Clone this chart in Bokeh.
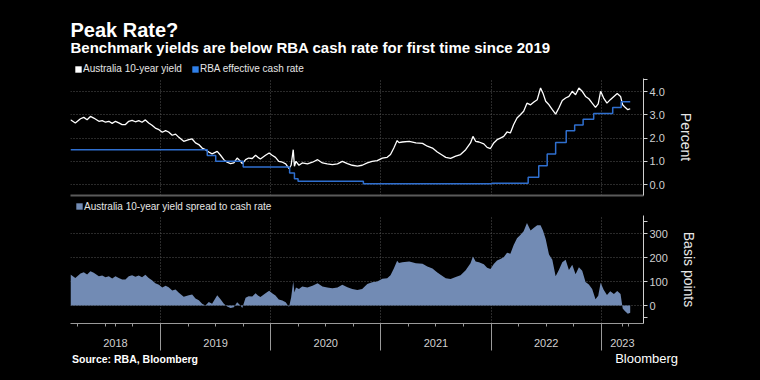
import numpy as np
import pandas as pd
from bokeh.plotting import figure
from bokeh.models import (Range1d, FixedTicker, PrintfTickFormatter, Label,
                          Legend, LegendItem)
from bokeh.layouts import column
from bokeh.embed import file_html
from bokeh.resources import INLINE

# ---------------- data ----------------
yield_dates = [
    "2018-03-09", "2018-03-25", "2018-04-11", "2018-04-22", "2018-05-03", "2018-05-14",
    "2018-05-25", "2018-06-11", "2018-06-22", "2018-07-03", "2018-07-14", "2018-07-25",
    "2018-08-05", "2018-08-16", "2018-08-27", "2018-09-07", "2018-09-18", "2018-09-29",
    "2018-10-10", "2018-10-21", "2018-11-01", "2018-11-12", "2018-11-23", "2018-12-04",
    "2018-12-15", "2018-12-27", "2019-01-07", "2019-01-18", "2019-01-28", "2019-02-09",
    "2019-02-20", "2019-03-03", "2019-03-19", "2019-04-05", "2019-04-16", "2019-04-27",
    "2019-05-08", "2019-05-19", "2019-05-30", "2019-06-10", "2019-06-21", "2019-07-08",
    "2019-07-19", "2019-07-30", "2019-08-10", "2019-08-21", "2019-09-01", "2019-09-12",
    "2019-09-23", "2019-09-29", "2019-10-10", "2019-10-20", "2019-11-01", "2019-11-12",
    "2019-11-20", "2019-11-28", "2019-12-15", "2019-12-27", "2020-01-06", "2020-01-17",
    "2020-01-28", "2020-02-09", "2020-02-20", "2020-03-02", "2020-03-09", "2020-03-16",
    "2020-03-20", "2020-03-25", "2020-04-04", "2020-04-15", "2020-05-02", "2020-05-19",
    "2020-06-05", "2020-06-21", "2020-07-07", "2020-07-24", "2020-08-10", "2020-08-26",
    "2020-09-12", "2020-09-28", "2020-10-15", "2020-10-31", "2020-11-17", "2020-12-03",
    "2020-12-20", "2021-01-06", "2021-01-22", "2021-02-02", "2021-02-13", "2021-02-24",
    "2021-03-02", "2021-03-13", "2021-04-05", "2021-04-27", "2021-05-19", "2021-06-04",
    "2021-06-21", "2021-07-07", "2021-07-24", "2021-08-04", "2021-08-20", "2021-09-06",
    "2021-09-22", "2021-10-09", "2021-10-25", "2021-11-02", "2021-11-11", "2021-11-22",
    "2021-12-08", "2021-12-19", "2021-12-30", "2022-01-10", "2022-01-21", "2022-02-01",
    "2022-02-12", "2022-02-23", "2022-03-06", "2022-03-17", "2022-03-28", "2022-04-08",
    "2022-04-19", "2022-04-30", "2022-05-12", "2022-05-23", "2022-06-03", "2022-06-14",
    "2022-06-22", "2022-07-01", "2022-07-12", "2022-07-23", "2022-08-03", "2022-08-14",
    "2022-08-25", "2022-09-05", "2022-09-16", "2022-09-27", "2022-10-08", "2022-10-19",
    "2022-10-30", "2022-11-10", "2022-11-21", "2022-12-02", "2022-12-13", "2022-12-22",
    "2022-12-30", "2023-01-09", "2023-01-20", "2023-01-31", "2023-02-12", "2023-02-23",
    "2023-03-06", "2023-03-13", "2023-03-21", "2023-03-30", "2023-04-07",
]
yield_10y = [
    2.79, 2.65, 2.83, 2.89, 2.79, 2.93,
    2.86, 2.72, 2.75, 2.68, 2.72, 2.63,
    2.72, 2.65, 2.58, 2.58, 2.72, 2.76,
    2.70, 2.75, 2.68, 2.78, 2.65, 2.55,
    2.43, 2.36, 2.25, 2.32, 2.26, 2.12,
    2.17, 2.03, 1.86, 1.93, 1.96, 1.79,
    1.72, 1.57, 1.50, 1.40, 1.32, 1.43,
    1.26, 1.07, 0.96, 0.90, 0.93, 1.14,
    1.00, 0.90, 1.07, 1.14, 1.12, 1.26,
    1.17, 1.10, 1.26, 1.36, 1.26, 1.17,
    1.00, 0.96, 0.89, 0.69, 0.83, 1.50,
    0.79, 1.00, 0.83, 0.93, 0.89, 0.96,
    1.07, 0.93, 0.89, 0.86, 0.89, 1.00,
    0.90, 0.83, 0.79, 0.83, 0.93, 1.00,
    1.03, 1.14, 1.17, 1.29, 1.57, 1.89,
    1.80, 1.83, 1.86, 1.79, 1.77, 1.65,
    1.57, 1.40, 1.26, 1.17, 1.13, 1.22,
    1.29, 1.50, 1.79, 2.07, 1.86, 1.83,
    1.75, 1.60, 1.55, 1.79, 1.93, 2.00,
    2.07, 2.26, 2.22, 2.58, 2.86, 3.00,
    3.15, 3.50, 3.43, 3.55, 3.65, 4.15,
    3.93, 3.58, 3.43, 3.22, 3.03, 3.30,
    3.61, 3.72, 3.79, 4.01, 3.86, 4.15,
    4.01, 3.79, 3.69, 3.50, 3.32, 3.47,
    4.01, 3.72, 3.50, 3.65, 3.79, 3.91,
    3.79, 3.43, 3.32, 3.22, 3.26,
]
cash_dates = [
    "2018-03-09", "2019-06-05", "2019-07-03", "2019-10-02", "2020-03-04", "2020-03-20",
    "2020-04-01", "2020-11-04", "2022-01-05", "2022-05-04", "2022-06-08", "2022-07-06",
    "2022-08-03", "2022-09-07", "2022-10-05", "2022-11-02", "2022-12-07", "2023-02-08",
    "2023-03-08", "2023-04-07",
]
cash_rate = [
    1.50, 1.25, 1.00, 0.75, 0.50, 0.25,
    0.14, 0.03, 0.06, 0.31, 0.81, 1.31,
    1.81, 2.31, 2.56, 2.81, 3.06, 3.31,
    3.56, 3.56,
]
years = ["2018", "2019", "2020", "2021", "2022", "2023"]
pct_ticks = [0, 1, 2, 3, 4]
bp_ticks = [0, 100, 200, 300]
x_start_date = "2018-03-09"
x_end_date = "2023-05-21"

# ---------------- helpers ----------------
def frac_year(s):
    d = pd.Timestamp(s)
    a = pd.Timestamp(year=d.year, month=1, day=1)
    b = pd.Timestamp(year=d.year + 1, month=1, day=1)
    return d.year + (d - a) / (b - a)

yx = np.array([frac_year(s) for s in yield_dates])
cx = np.array([frac_year(s) for s in cash_dates])
yv = np.array(yield_10y)
cv = np.array(cash_rate)
idx = np.clip(np.searchsorted(cx, yx, side="right") - 1, 0, len(cv) - 1)
spread_bp = (yv - cv[idx]) * 100.0

x0 = frac_year(x_start_date)
x1 = frac_year(x_end_date)

year_bounds = [float(int(y)) for y in years if x0 < int(y) < x1]
label_pos, label_txt = [], []
for y in years:
    lo, hi = max(float(int(y)), x0), min(float(int(y) + 1), x1)
    label_pos.append((lo + hi) / 2.0)
    label_txt.append(y)
quarter_ticks = [int(y) + q / 4.0 for y in years for q in (1, 2, 3)
                 if x0 < int(y) + q / 4.0 < x1]
major_x = sorted(set(quarter_ticks) | set(label_pos))
overrides = {t: "" for t in major_x}
for t, s in zip(label_pos, label_txt):
    overrides[t] = s

FONT = "Liberation Sans"
BG = "#000000"
GRID = "#555555"
AX = "#d0d0d0"
WHITE_LINE = "#ffffff"
BLUE_LINE = "#2f6fcf"
BLUE_KEY = "#2f7fe8"
AREA = "#728bb4"

W = 760
FL, FR = 70, 117          # frame left / right borders of the chart panels

def base_fig(h, **kw):
    f = figure(width=W, height=h, output_backend="svg", toolbar_location=None,
               background_fill_color=BG, border_fill_color=None,
               outline_line_color=None, **kw)
    f.title.visible = False
    return f

def blank_fig(h):
    f = base_fig(h, x_range=Range1d(0, 1), y_range=Range1d(0, 1),
                 x_axis_location=None, y_axis_location=None,
                 min_border=0, min_border_left=0, min_border_right=0,
                 min_border_top=0, min_border_bottom=0)
    f.grid.visible = False
    free = True
    try:
        f.frame_align = False
    except Exception:
        free = False
    return f, (0 if free else -FL)

def style_panel(p):
    p.xgrid.ticker = FixedTicker(ticks=year_bounds)
    for g in (p.xgrid, p.ygrid):
        g.grid_line_color = GRID
        g.grid_line_dash = "1 2"
        g.grid_line_width = 1
    ya = p.yaxis[0]
    ya.axis_line_color = AX
    ya.major_tick_line_color = AX
    ya.minor_tick_line_color = AX
    ya.major_tick_out = 4
    ya.major_tick_in = 0
    ya.minor_tick_out = 4
    ya.minor_tick_in = 0
    ya.major_label_standoff = 2
    ya.major_label_text_font = FONT
    ya.major_label_text_font_size = "11px"
    ya.major_label_text_color = AX
    ya.axis_label_text_font = FONT
    ya.axis_label_text_font_size = "14px"
    ya.axis_label_text_font_style = "normal"
    ya.axis_label_text_color = "#e6e6e6"
    ya.axis_label_standoff = 10

def make_legend(items, loc):
    return Legend(items=items, location=loc, orientation="horizontal",
                  padding=0, margin=0, spacing=9, glyph_width=8, glyph_height=8,
                  label_standoff=1, label_height=8, label_width=10,
                  label_text_font=FONT, label_text_font_size="10px",
                  label_text_color="#e6e6e6", background_fill_alpha=0,
                  border_line_color=None)

def key_patch(f, color):
    # legend key renderer whose data lies outside the (0..1) view of the blank figure
    return f.varea(x=[5, 6], y1=[5, 5], y2=[6, 6], fill_color=color)

def text_label(f, dx, x, y, text, size, bold=False):
    f.add_layout(Label(x=x + dx, y=y, x_units="screen", y_units="screen", text=text,
                       text_font=FONT, text_font_style="bold" if bold else "normal",
                       text_font_size=size, text_color="#ffffff",
                       text_baseline="middle", text_align="left"))

# ---------------- header (titles + legend) ----------------
hdr, dx = blank_fig(76)
text_label(hdr, dx, 70, 46.2, "Peak Rate?", "20px", bold=True)
text_label(hdr, dx, 70, 29.0,
           "Benchmark yields are below RBA cash rate for first time since 2019",
           "15px", bold=True)
k1 = key_patch(hdr, "#ffffff")
k2 = key_patch(hdr, BLUE_KEY)
hdr.add_layout(make_legend([LegendItem(label="Australia 10-year yield", renderers=[k1]),
                            LegendItem(label="RBA effective cash rate", renderers=[k2])],
                           (74 + dx, 1.6)))

# ---------------- top panel ----------------
p1 = base_fig(123, x_range=Range1d(x0, x1), y_range=Range1d(-0.47, 4.56),
              y_axis_location="right", min_border_left=FL, min_border_right=FR,
              min_border_top=2, min_border_bottom=4)
style_panel(p1)
p1.ygrid.ticker = FixedTicker(ticks=pct_ticks)
p1.yaxis.ticker = FixedTicker(ticks=pct_ticks, minor_ticks=[4.5])
p1.yaxis.formatter = PrintfTickFormatter(format="%.1f")
p1.yaxis.axis_label = "Percent"
xa = p1.xaxis[0]
xa.ticker = FixedTicker(ticks=[])
xa.major_label_text_font_size = "0px"
xa.major_label_standoff = 0
xa.major_tick_out = 0
xa.major_tick_in = 0
xa.minor_tick_out = 0
xa.minor_tick_in = 0
xa.axis_line_color = "#5a5a5a"
xa.axis_line_width = 2

p1.line(x=yx, y=yv, line_color=WHITE_LINE, line_width=1.3)
p1.step(x=cx, y=cv, mode="after", line_color=BLUE_LINE, line_width=1.5)

# ---------------- strip with the spread legend ----------------
mid, dxm = blank_fig(16)
k3 = key_patch(mid, AREA)
mid.add_layout(make_legend([LegendItem(label="Australia 10-year yield spread to cash rate",
                                       renderers=[k3])], (75 + dxm, 3.3)))

# ---------------- bottom panel ----------------
p2 = base_fig(137, x_range=p1.x_range, y_range=Range1d(-75, 375),
              y_axis_location="right", min_border_left=FL, min_border_right=FR,
              min_border_top=0, min_border_bottom=29)
style_panel(p2)
p2.ygrid.ticker = FixedTicker(ticks=bp_ticks)
p2.yaxis.ticker = FixedTicker(ticks=bp_ticks, minor_ticks=[-50, 350])
p2.yaxis.formatter = PrintfTickFormatter(format="%d")
p2.yaxis.axis_label = "Basis points"

xb = p2.xaxis[0]
xb.ticker = FixedTicker(ticks=major_x, minor_ticks=year_bounds)
xb.major_label_overrides = overrides
xb.major_tick_out = 3
xb.major_tick_in = 0
xb.minor_tick_out = 27
xb.minor_tick_in = 0
xb.axis_line_color = "#9a9a9a"
xb.major_tick_line_color = "#9a9a9a"
xb.minor_tick_line_color = "#9a9a9a"
xb.major_label_standoff = -12
xb.major_label_text_font = FONT
xb.major_label_text_font_size = "11px"
xb.major_label_text_color = AX

p2.varea(x=yx, y1=np.zeros_like(spread_bp), y2=spread_bp, fill_color=AREA)

# ---------------- footer ----------------
ftr, dxf = blank_fig(28)
text_label(ftr, dxf, 71.5, 22, "Source: RBA, Bloomberg", "10.5px", bold=True)
text_label(ftr, dxf, 614.7, 22.5, "Bloomberg", "13px")

layout = column(hdr, p1, mid, p2, ftr, spacing=0)
html = file_html(layout, INLINE, title="Peak Rate?")
# black page background (the real <body> tag is the last one in the file)
head, sep, tail = html.rpartition("<body>")
if sep:
    html = head + '<body style="background-color:#000000;">' + tail
open("out.html", "w").write(html)
